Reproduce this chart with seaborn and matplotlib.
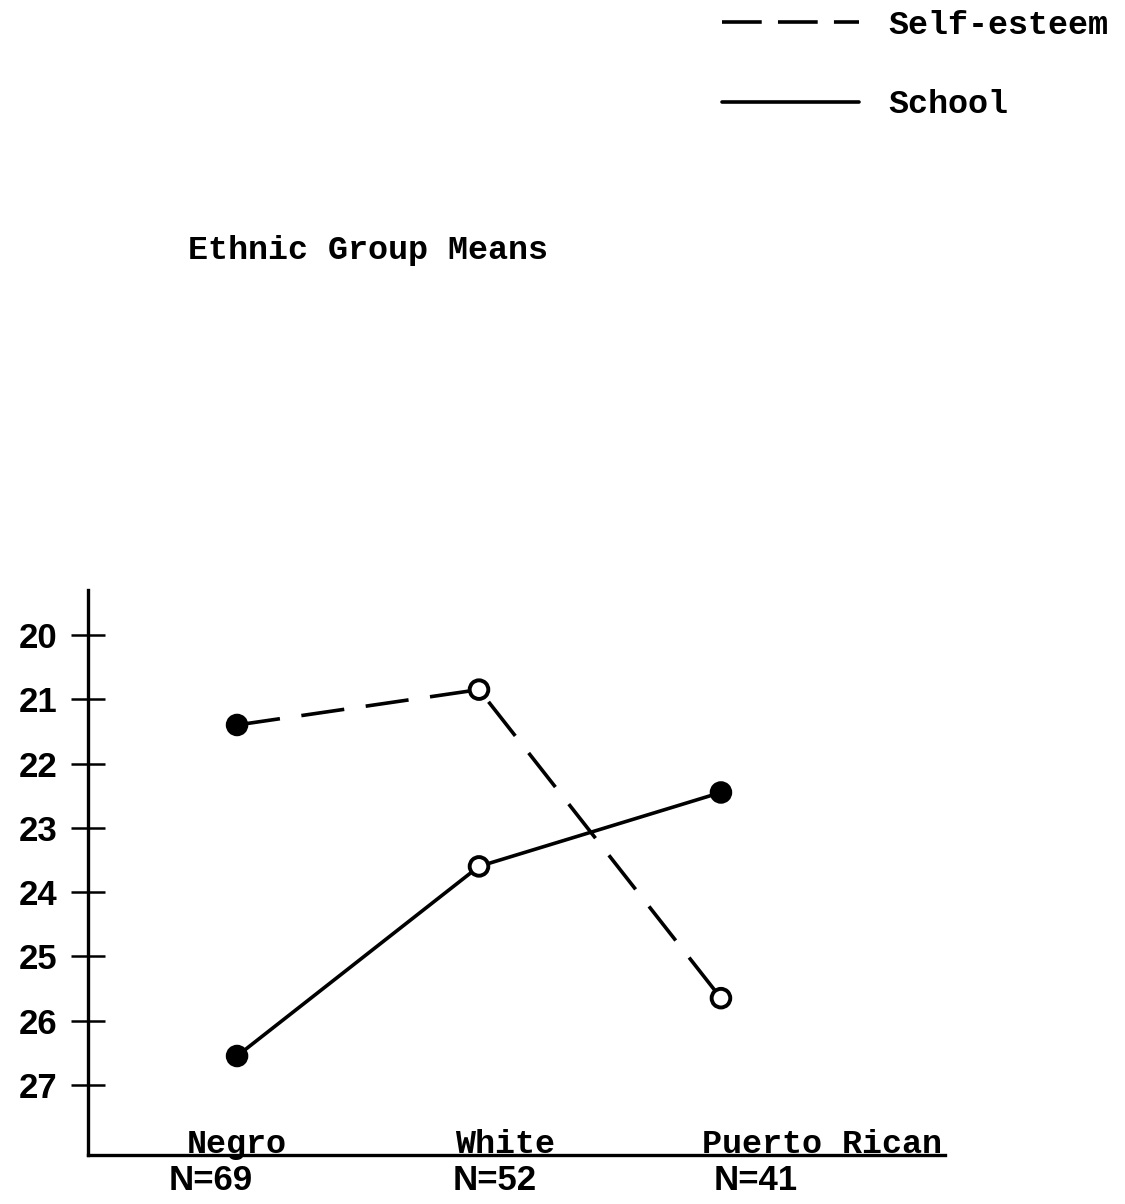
import numpy as np
import pandas as pd
import matplotlib
matplotlib.use('Agg')
import matplotlib.pyplot as plt
import seaborn as sns
from matplotlib.lines import Line2D

groups = ['Negro', 'White', 'Puerto Rican']
group_n = ['N=69', 'N=52', 'N=41']
self_esteem = [21.4, 20.85, 25.65]
school = [26.55, 23.6, 22.45]
yticks = [20, 21, 22, 23, 24, 25, 26, 27]

# open / filled circles as drawn in the original
self_filled = [True, False, False]
school_filled = [True, False, True]

df = pd.DataFrame({
    'pos': list(range(len(groups))) * 2,
    'value': self_esteem + school,
    'measure': ['Self-esteem'] * 3 + ['School'] * 3,
})

sns.set_style('white')
plt.rcParams['text.color'] = 'black'
plt.rcParams['ytick.color'] = 'black'
plt.rcParams['ytick.labelcolor'] = 'black'
mono = 'Liberation Mono'
sans = 'Liberation Sans'

W, H = 1125, 1204
fig = plt.figure(figsize=(W / 100, H / 100), dpi=100)
ax = fig.add_axes([88 / W, 1 - 1155 / H, (945 - 88) / W, (1155 - 590) / H])

sns.lineplot(data=df, x='pos', y='value', hue='measure', style='measure',
             palette={'Self-esteem': 'black', 'School': 'black'},
             dashes={'Self-esteem': (12, 6), 'School': ''},
             linewidth=2.6, ax=ax, legend=False)

for vals, fills in [(self_esteem, self_filled), (school, school_filled)]:
    pos = np.arange(len(vals))
    fc = ['black' if f else 'white' for f in fills]
    ax.scatter(pos, vals, s=180, facecolors=fc, edgecolors='black',
               linewidths=2.8, zorder=5)

ax.set_xlim(-0.616, 2.926)
ax.set_ylim(28.09, 19.3)
ax.set_yticks(yticks)
ax.set_yticklabels([str(t) for t in yticks], fontfamily=sans, fontsize=25,
                   fontweight='bold', color='black')
ax.set_xticks([])
ax.tick_params(axis='y', direction='inout', length=24, width=1.8, pad=10,
               left=True, colors='black')
ax.set_xlabel('')
ax.set_ylabel('')
for s in ['top', 'right']:
    ax.spines[s].set_visible(False)
for s in ['left', 'bottom']:
    ax.spines[s].set_linewidth(2.4)
    ax.spines[s].set_color('black')

# category labels sit on the axis line, not centered on the points
label_x = [237, 505, 822]
n_x = [211, 495, 756]
for g, gx in zip(groups, label_x):
    fig.text(gx / W, 1 - 1153 / H, g, ha='center', va='baseline',
             fontfamily=mono, fontsize=24, fontweight='bold', color='black')
for n, nx in zip(group_n, n_x):
    fig.text(nx / W, 1 - 1180 / H, n, ha='center', va='center',
             fontfamily=sans, fontsize=25, fontweight='bold', color='black')

fig.text(188 / W, 1 - 250 / H, 'Ethnic Group Means', ha='left', va='center',
         fontfamily=mono, fontsize=24, fontweight='bold', color='black')

# legend in the upper right
handles = [Line2D([], [], color='black', lw=2.6, dashes=(11, 4.5)),
           Line2D([], [], color='black', lw=2.6)]
fig.legend(handles, ['Self-esteem', 'School'], loc='upper left',
           bbox_to_anchor=(722 / W, 1 - 10 / H), frameon=False,
           prop={'family': mono, 'size': 24, 'weight': 'bold'},
           labelcolor='black',
           handlelength=4.1, handletextpad=0.9, labelspacing=1.45,
           borderpad=0, borderaxespad=0)

plt.savefig('out.png', dpi=100)
